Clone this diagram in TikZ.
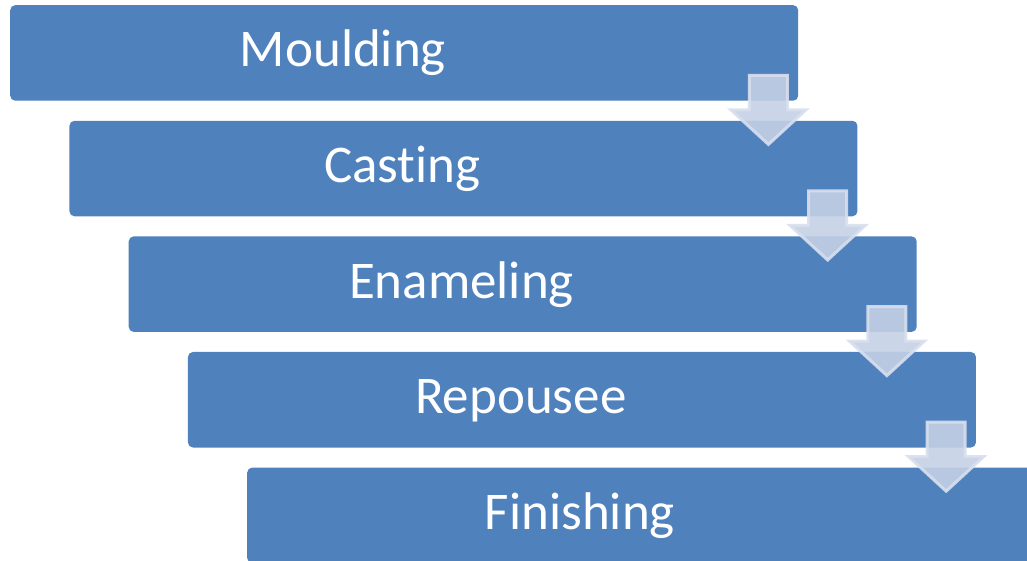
\documentclass[tikz,border=0pt]{standalone}
\usepackage{fontspec}
\setmainfont{Carlito}[Ligatures={NoCommon,NoRare}]
\usetikzlibrary{calc}

\definecolor{stepblue}{HTML}{4F81BD}
\definecolor{arrowfill}{HTML}{C4D0E5}
\definecolor{arrowline}{HTML}{D8DFEE}

\tikzset{
  stagebox/.style={rectangle, fill=stepblue, rounded corners=5bp,
    minimum width=788bp, minimum height=95.5bp, inner sep=0pt, anchor=north west},
  stagelabel/.style={text=white, anchor=base, inner sep=0pt,
    font=\fontsize{53bp}{60bp}\selectfont},
  downarrow/.pic={
    \path[fill=arrowfill, fill opacity=0.9, draw=arrowline, draw opacity=0.9,
          line width=3bp, line join=miter]
      (-19,1.5) -- (19,1.5) -- (19,36) -- (37.5,36) -- (0,70.5)
      -- (-37.5,36) -- (-19,36) -- cycle;
  }
}

\begin{document}
\begin{tikzpicture}[x=1bp, y=-1bp]
  \useasboundingbox (0,0) rectangle (1027,561);

  % the five process stages, stepping down to the right
  \node[stagebox] (b1) at (10,5)      {};
  \node[stagebox] (b2) at (69.25,120.6)  {};
  \node[stagebox] (b3) at (128.5,236.2) {};
  \node[stagebox] (b4) at (187.75,351.8) {};
  \node[stagebox] (b5) at (247,467.4) {};

  \node[stagelabel] (l1) at ($(b1.north west)+(333,62)$) {Moulding};
  \node[stagelabel] (l2) at ($(b2.north west)+(333,62)$) {Casting};
  \node[stagelabel] (l3) at ($(b3.north west)+(333,62)$) {Enameling};
  \node[stagelabel] (l4) at ($(b4.north west)+(333,62)$) {Repousee};
  \node[stagelabel] (l5) at ($(b5.north west)+(333,62)$) {Finishing};

  % translucent arrows linking each stage to the next
  \foreach \i in {1,...,4}{
    \coordinate (a\i) at ($(b\i.south east)+(-30,-27)$);
    \pic at (a\i) {downarrow};
  }
\end{tikzpicture}
\end{document}
